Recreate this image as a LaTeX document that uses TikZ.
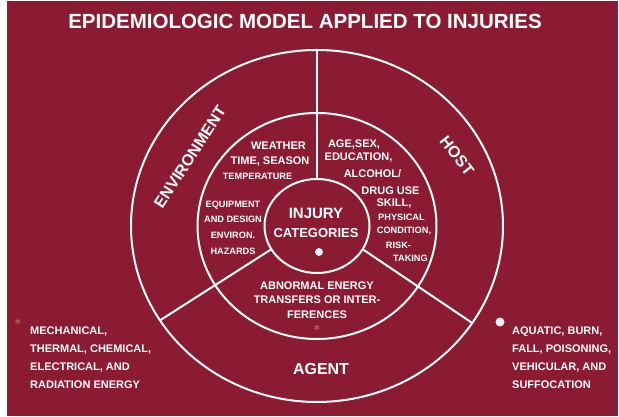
\documentclass[tikz,border=0pt]{standalone}
\usepackage{fontspec}
\setmainfont{Liberation Sans}
\usepackage{xcolor}
\usepackage{tikz}
\usetikzlibrary{shapes.geometric}
\definecolor{bgred}{HTML}{8A1B33}
\definecolor{salm}{HTML}{E9806E}
\definecolor{dotc}{HTML}{E4F3F3}
\tikzset{
  ring/.style={draw=white,line width=2pt,ellipse,inner sep=0pt,outer sep=0pt},
  dv/.style={white,line width=2pt},
  big/.style={text=white,inner sep=0pt,font=\bfseries\fontsize{16}{18}\selectfont},
  txt/.style={text=white,inner sep=0pt,font=\bfseries\fontsize{11}{14.5}\selectfont},
  sml/.style={text=white,inner sep=0pt,font=\bfseries\fontsize{9.2}{15.7}\selectfont},
  spot/.style={circle,fill=dotc,inner sep=0pt},
  star/.style={text=salm,inner sep=0pt,font=\fontsize{15}{15}\selectfont}
}
\begin{document}
\begin{tikzpicture}[x=1pt,y=1pt]
\useasboundingbox (0,0) rectangle (619,417);
\fill[white] (0,0) rectangle (619,417);
\fill[bgred] (7,1) rectangle (618,416);
\node[ring,minimum width=372pt,minimum height=352pt] (outer) at (317,191) {};
\node[ring,minimum width=239pt,minimum height=226pt] (mid) at (317,191) {};
\node[ring,minimum width=105pt,minimum height=94pt] (inner) at (317,191) {};
\draw[dv] (inner.north) -- (outer.north);
\draw[dv] (inner.207) -- (outer.211.6);
\draw[dv] (inner.-27.6) -- (outer.-32.7);
\node[text=white,inner sep=0pt,font=\bfseries\fontsize{20.5}{24}\selectfont] (title) at (305,396) {EPIDEMIOLOGIC MODEL APPLIED TO INJURIES};
\node[big,rotate=57] (env) at (190,260) {ENVIRONMENT};
\node[big,rotate=-52] (host) at (457,261) {HOST};
\node[big] (agent) at (321,48) {AGENT};
\node[txt] (weather) at (278.5,271) {WEATHER};
\node[txt] (season) at (270,255) {TIME, SEASON};
\node[sml] (temp) at (257.5,241) {TEMPERATURE};
\node[sml,align=center] (equip) at (233,189.5) {EQUIPMENT\\AND DESIGN\\ENVIRON.\\HAZARDS};
\node[text=white,inner sep=0pt,font=\bfseries\fontsize{15}{18}\selectfont] (injury) at (316,204) {INJURY};
\node[text=white,inner sep=0pt,font=\bfseries\fontsize{13}{16}\selectfont] (categ) at (316,184) {CATEGORIES};
\node[spot,minimum size=8pt] (dotc) at (319,165) {};
\node[txt] (age) at (354,272) {AGE,SEX,};
\node[txt] (educ) at (358.5,259) {EDUCATION,};
\node[txt] (alco) at (372.5,243) {ALCOHOL/};
\node[txt] (drug) at (390.5,226) {DRUG USE};
\node[txt] (skill) at (394,213) {SKILL,};
\node[sml] (phys) at (401.5,200) {PHYSICAL};
\node[sml] (cond) at (404,186) {CONDITION,};
\node[sml] (risk) at (398.5,172) {RISK-};
\node[sml] (taking) at (410.5,159) {TAKING};
\node[txt,align=center] (energy) at (317,117) {ABNORMAL ENERGY\\TRANSFERS OR INTER-\\FERENCES};
\node[star] (astc) at (317,89) {$\ast$};
\node[star] (astl) at (18,95) {$\ast$};
\node[txt,align=left,anchor=west,font=\bfseries\fontsize{11}{18}\selectfont] (mech) at (30,59) {MECHANICAL,\\THERMAL, CHEMICAL,\\ELECTRICAL, AND\\RADIATION ENERGY};
\node[spot,minimum size=9pt] (dotr) at (500,95) {};
\node[txt,align=left,anchor=west,font=\bfseries\fontsize{11}{18}\selectfont] (aqua) at (512,59) {AQUATIC, BURN,\\FALL, POISONING,\\VEHICULAR, AND\\SUFFOCATION};
\end{tikzpicture}
\end{document}
